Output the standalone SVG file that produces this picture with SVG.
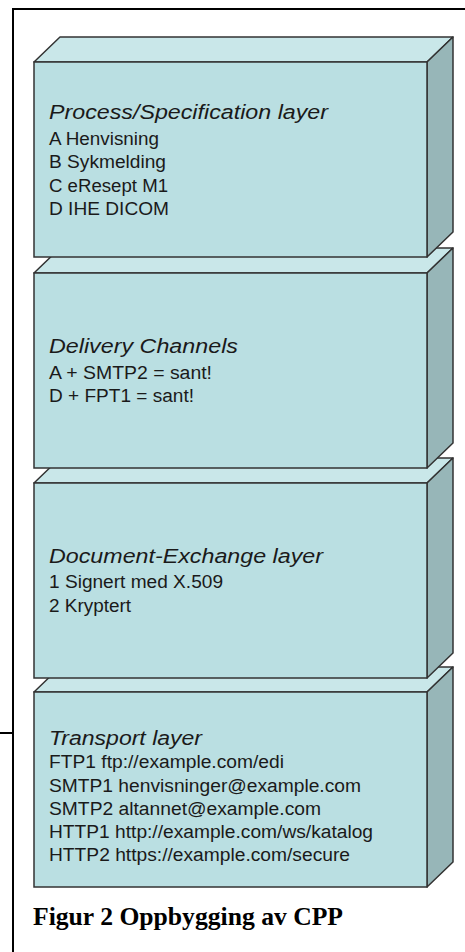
<svg xmlns="http://www.w3.org/2000/svg" width="465" height="952" viewBox="0 0 465 952">
<style>
.front{fill:#badfe2;stroke:#333;stroke-width:1.5}
.top{fill:#c9e7e9;stroke:#333;stroke-width:1.5;stroke-linejoin:round}
.side{fill:#97b6b8;stroke:#333;stroke-width:1.5;stroke-linejoin:round}
.t{font-family:"Liberation Sans",Arial,sans-serif;font-size:20px;font-style:italic;fill:#1a1a1a}
.b{font-family:"Liberation Sans",Arial,sans-serif;font-size:18px;fill:#1a1a1a}
.cap{font-family:"Liberation Serif","Times New Roman",serif;font-size:25px;font-weight:bold;fill:#000}
.frame{stroke:#000;stroke-width:2;fill:none}
</style>
<rect width="465" height="952" fill="#fff"/>
<g id="frame">
<path class="frame" d="M13,952 V9 H466"/>
<path class="frame" d="M0,733 H13"/>
</g>
<g id="layer4">
<polygon class="top" points="34,692 60,667 453,667 427,692"/>
<polygon class="side" points="427,692 453,667 453,862 427,887"/>
<rect class="front" x="34" y="692" width="393" height="195"/>
<text class="t" x="49" y="745" textLength="153" lengthAdjust="spacingAndGlyphs">Transport layer</text>
<text class="b" x="49" y="768" textLength="235" lengthAdjust="spacingAndGlyphs">FTP1  ftp://example.com/edi</text>
<text class="b" x="49" y="792" textLength="312" lengthAdjust="spacingAndGlyphs">SMTP1 henvisninger@example.com</text>
<text class="b" x="49" y="815" textLength="272" lengthAdjust="spacingAndGlyphs">SMTP2 altannet@example.com</text>
<text class="b" x="49" y="838" textLength="324" lengthAdjust="spacingAndGlyphs">HTTP1 http://example.com/ws/katalog</text>
<text class="b" x="49" y="861" textLength="301" lengthAdjust="spacingAndGlyphs">HTTP2 https://example.com/secure</text>
</g>
<g id="layer3">
<polygon class="top" points="34,483 60,458 453,458 427,483"/>
<polygon class="side" points="427,483 453,458 453,653 427,678"/>
<rect class="front" x="34" y="483" width="393" height="195"/>
<text class="t" x="49" y="563" textLength="274" lengthAdjust="spacingAndGlyphs">Document-Exchange layer</text>
<text class="b" x="49" y="588" textLength="174" lengthAdjust="spacingAndGlyphs">1 Signert med X.509</text>
<text class="b" x="49" y="612" textLength="82" lengthAdjust="spacingAndGlyphs">2 Kryptert</text>
</g>
<g id="layer2">
<polygon class="top" points="34,273 60,248 453,248 427,273"/>
<polygon class="side" points="427,273 453,248 453,443 427,468"/>
<rect class="front" x="34" y="273" width="393" height="195"/>
<text class="t" x="49" y="353" textLength="189" lengthAdjust="spacingAndGlyphs">Delivery Channels</text>
<text class="b" x="49" y="379" textLength="163" lengthAdjust="spacingAndGlyphs">A + SMTP2 = sant!</text>
<text class="b" x="49" y="402" textLength="145" lengthAdjust="spacingAndGlyphs">D + FPT1 = sant!</text>
</g>
<g id="layer1">
<polygon class="top" points="34,62 60,37 453,37 427,62"/>
<polygon class="side" points="427,62 453,37 453,232 427,257"/>
<rect class="front" x="34" y="62" width="393" height="195"/>
<text class="t" x="49" y="119" textLength="279" lengthAdjust="spacingAndGlyphs">Process/Specification layer</text>
<text class="b" x="49" y="145" textLength="110" lengthAdjust="spacingAndGlyphs">A Henvisning</text>
<text class="b" x="49" y="168" textLength="117" lengthAdjust="spacingAndGlyphs">B Sykmelding</text>
<text class="b" x="49" y="192" textLength="119" lengthAdjust="spacingAndGlyphs">C eResept M1</text>
<text class="b" x="49" y="215" textLength="120" lengthAdjust="spacingAndGlyphs">D IHE DICOM</text>
</g>
<g id="connectors"></g>
<text class="cap" x="33" y="925" textLength="310" lengthAdjust="spacingAndGlyphs">Figur 2 Oppbygging av CPP</text>
</svg>
